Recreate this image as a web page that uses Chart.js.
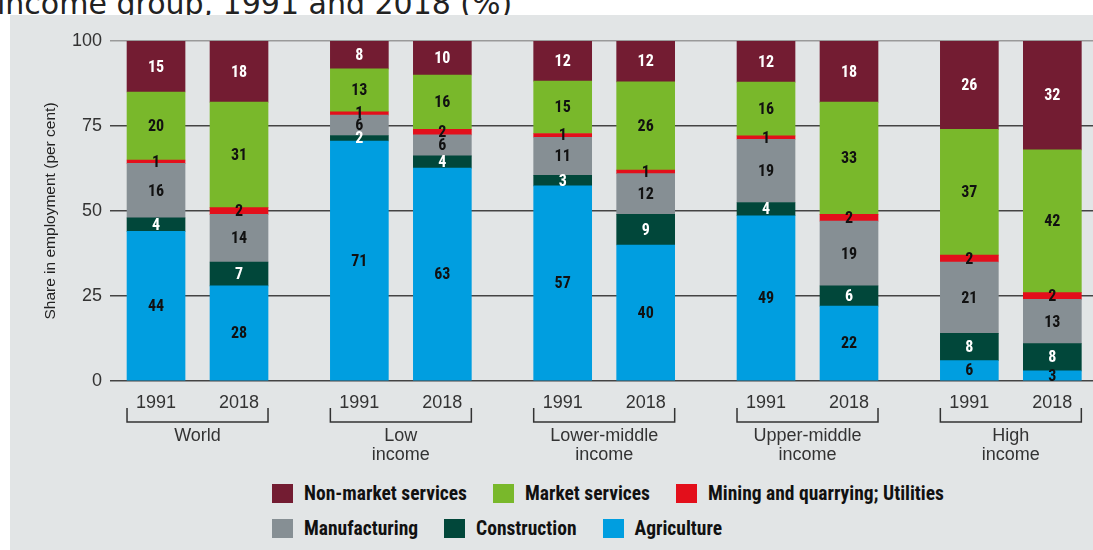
<!DOCTYPE html>
<html>
<head>
<meta charset="utf-8">
<script src="https://cdn.jsdelivr.net/npm/chart.js@4.4.1/dist/chart.umd.min.js"></script>
<style>
  body { margin: 0; width: 1093px; height: 550px; overflow: hidden; background: #fff; position: relative; font-family: 'Liberation Sans', Arial, sans-serif; }
  .page-title { position: absolute; left: -3px; top: -11px; font-family: 'DejaVu Sans', sans-serif; font-size: 30px; line-height: 30px; color: #222; white-space: nowrap; }
  .panel { position: absolute; left: 10px; top: 15px; width: 1083px; height: 535px; background: #e2e5e6; }
  #employmentChart { position: absolute; left: 0; top: 0; }
  .legend { position: absolute; left: 272px; top: 484px; font-family: 'Roboto Condensed', sans-serif; font-weight: bold; font-size: 19.5px; color: #111; }
  .legend-row { display: flex; height: 35px; }
  .legend-item { display: flex; align-items: center; height: 19px; margin-right: 26px; }
  .swatch { width: 21px; height: 19px; margin-right: 11px; }
</style>
</head>
<body>
<div class="page-title">income group, 1991 and 2018 (%)</div>
<div class="panel"></div>
<canvas id="employmentChart" width="1093" height="470"></canvas>
<div class="legend" id="legend"></div>

<script>
// World, Low, Lower-middle, Upper-middle, High  x  1991, 2018
const groupLabels = ['World', ['Low', 'income'], ['Lower-middle', 'income'], ['Upper-middle', 'income'], ['High', 'income']];
const years = ['1991', '2018'];

const agriculture   = [44, 28, 70.6, 62.6, 57.4, 40, 48.6, 22, 6, 3];
const construction  = [4, 7, 1.6, 3.6, 3.1, 9, 3.9, 6, 8, 8];
const manufacturing = [16, 14, 6.0, 6.2, 11.2, 12, 18.6, 19, 21, 13];
const mining        = [1, 2, 1.0, 1.6, 1.1, 1, 1.0, 2, 2, 2];
const marketServ    = [20, 31, 12.6, 16.0, 15.4, 26, 15.8, 33, 37, 42];
const nonMarketServ = [15, 18, 8.2, 10.0, 11.8, 12, 12.1, 18, 26, 32];

// bar placement on the linear x scale (one unit = distance between the two bars of a group)
const GROUP_PITCH = 2.45;
const barPos = [];
groupLabels.forEach((g, gi) => years.forEach((y, yi) => barPos.push(gi * GROUP_PITCH + yi)));
const groupCenters = groupLabels.map((g, gi) => gi * GROUP_PITCH + 0.5);
const xMin = -0.41, xMax = 11.29;

const toPoints = arr => arr.map((v, i) => ({ x: barPos[i], y: v }));

const series = [
  { label: 'Agriculture', data: agriculture, color: '#009ee0', text: '#111' },
  { label: 'Construction', data: construction, color: '#01473a', text: '#fff' },
  { label: 'Manufacturing', data: manufacturing, color: '#868f94', text: '#111' },
  { label: 'Mining and quarrying; Utilities', data: mining, color: '#e30f1b', text: '#111' },
  { label: 'Market services', data: marketServ, color: '#79b82b', text: '#111' },
  { label: 'Non-market services', data: nonMarketServ, color: '#731c32', text: '#fff' }
];

const segmentLabels = {
  id: 'segmentLabels',
  afterDatasetsDraw(chart) {
    const ctx = chart.ctx;
    ctx.save();
    ctx.font = 'bold 16px "Roboto Condensed", sans-serif';
    ctx.textAlign = 'center';
    ctx.textBaseline = 'middle';
    chart.data.datasets.forEach((ds, i) => {
      const meta = chart.getDatasetMeta(i);
      meta.data.forEach((bar, j) => {
        ctx.fillStyle = ds.labelColor;
        ctx.fillText(Math.round(ds.data[j].y), bar.x, (bar.y + bar.base) / 2 + 1);
      });
    });
    ctx.restore();
  }
};

// brackets under each pair of years
const groupBrackets = {
  id: 'groupBrackets',
  afterDraw(chart) {
    const ctx = chart.ctx;
    const bars = chart.getDatasetMeta(0).data;
    const top = chart.chartArea.bottom + 27;
    const bottom = chart.chartArea.bottom + 41;
    ctx.save();
    ctx.strokeStyle = '#333';
    ctx.lineWidth = 1.5;
    for (let g = 0; g < groupLabels.length; g++) {
      const a = bars[g * 2], b = bars[g * 2 + 1];
      const left = a.x - a.width / 2;
      const right = b.x + b.width / 2;
      ctx.beginPath();
      ctx.moveTo(left, top);
      ctx.lineTo(left, bottom);
      ctx.lineTo(right, bottom);
      ctx.lineTo(right, top);
      ctx.stroke();
    }
    ctx.restore();
  }
};

Chart.defaults.font.family = "'Liberation Sans', Arial, sans-serif";

const chart = new Chart(document.getElementById('employmentChart'), {
  type: 'bar',
  data: {
    datasets: series.map(s => ({
      label: s.label,
      data: toPoints(s.data),
      backgroundColor: s.color,
      labelColor: s.text,
      borderWidth: 0,
      barThickness: 58
    }))
  },
  options: {
    responsive: false,
    animation: false,
    layout: { padding: { top: 41, left: 0, right: 0, bottom: 0 } },
    plugins: {
      legend: { display: false },
      tooltip: { enabled: false }
    },
    scales: {
      x: {
        type: 'linear',
        stacked: true,
        offset: false,
        min: xMin,
        max: xMax,
        weight: 0,
        grid: { display: false, drawTicks: false, offset: false },
        border: { display: false },
        ticks: {
          autoSkip: false, maxRotation: 0, padding: 11, color: '#333', font: { size: 18 },
          callback: (v, i) => years[i % 2]
        },
        afterBuildTicks(axis) { axis.ticks = barPos.map(v => ({ value: v })); },
        afterFit(scale) { scale.height = 30; }
      },
      x2: {
        type: 'linear',
        position: 'bottom',
        offset: false,
        min: xMin,
        max: xMax,
        weight: 1,
        grid: { display: false, drawTicks: false, offset: false },
        border: { display: false },
        ticks: {
          autoSkip: false, maxRotation: 0, padding: 16, color: '#333', font: { size: 18, lineHeight: 1.05 },
          callback: (v, i) => groupLabels[i]
        },
        afterBuildTicks(axis) { axis.ticks = groupCenters.map(v => ({ value: v })); },
        afterFit(scale) { scale.height = 59; }
      },
      y: {
        stacked: true,
        min: 0,
        max: 100,
        ticks: { stepSize: 25, padding: 8, color: '#333', font: { size: 18 } },
        grid: {
          color: c => (c.tick && c.tick.value === 100 ? '#9a9a9a' : '#444'),
          lineWidth: 1.5,
          tickLength: 12
        },
        border: { display: false },
        title: {
          display: true,
          text: 'Share in employment (per cent)',
          color: '#222',
          font: { size: 15.5 },
          padding: { top: 41, bottom: 0 }
        },
        afterFit(scale) { scale.width = 122; }
      }
    }
  },
  plugins: [segmentLabels, groupBrackets]
});

// legend, top series first, in two rows
const legendEl = document.getElementById('legend');
const ordered = series.slice().reverse();
[ordered.slice(0, 3), ordered.slice(3)].forEach(row => {
  const rowEl = document.createElement('div');
  rowEl.className = 'legend-row';
  row.forEach(s => {
    const item = document.createElement('div');
    item.className = 'legend-item';
    item.innerHTML = '<span class="swatch" style="background:' + s.color + '"></span>' + s.label;
    rowEl.appendChild(item);
  });
  legendEl.appendChild(rowEl);
});
</script>
</body>
</html>
